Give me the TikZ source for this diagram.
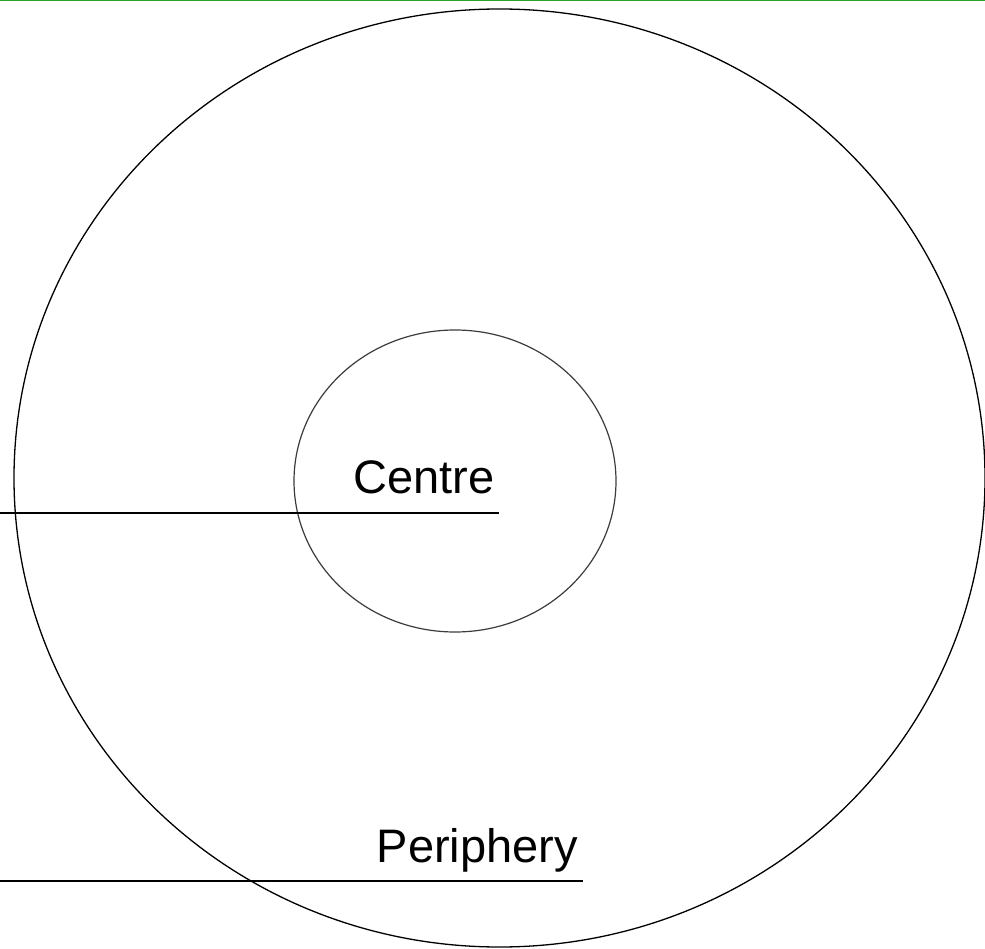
\documentclass[tikz,border=0pt]{standalone}
\usepackage{fontspec}
\setmainfont{Liberation Sans}
\usetikzlibrary{shapes.geometric}
\definecolor{topgreen}{RGB}{44,160,44}
\definecolor{innergrey}{RGB}{60,60,60}
\tikzset{
  ring/.style={ellipse, draw=black, line width=1.3pt, inner sep=0pt},
  innerring/.style={ellipse, draw=innergrey, line width=1.2pt, inner sep=0pt},
  label/.style={inner sep=0pt, font=\fontsize{47}{56}\selectfont},
  rule/.style={line width=2pt, black}
}
\begin{document}
\begin{tikzpicture}[x=1pt,y=-1pt]
\useasboundingbox (0,0) rectangle (985,949);
\clip (0,0) rectangle (985,949);
\fill[white] (0,0) rectangle (985,949);
\coordinate (gl) at (0,0.75);
\coordinate (gr) at (985,0.75);
\draw[topgreen, line width=1.5pt] (gl) -- (gr);
\node[ring, minimum width=971pt, minimum height=938pt] (outer) at (499.5,478) {};
\node[innerring, minimum width=322pt, minimum height=302pt] (inner) at (455,481) {};
\node[label, anchor=base east] (centre) at (495,493) {Centre};
\node[label, anchor=base east] (periphery) at (578,862) {Periphery};
\coordinate (c1) at (0,513);
\coordinate (c2) at (499,513);
\coordinate (p1) at (0,881);
\coordinate (p2) at (583,881);
\draw[rule] (c1) -- (c2);
\draw[rule] (p1) -- (p2);
\end{tikzpicture}
\end{document}
